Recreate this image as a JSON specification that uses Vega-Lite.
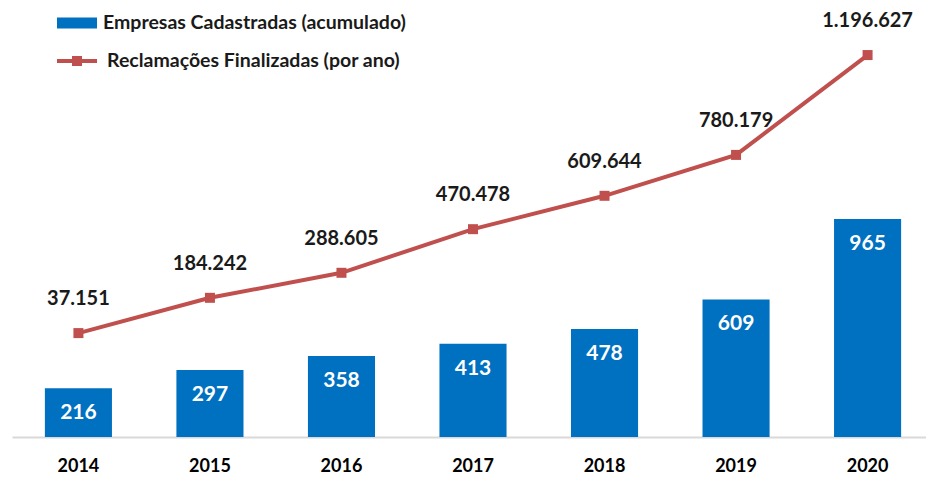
{
  "$schema": "https://vega.github.io/schema/vega-lite/v6.json",
  "autosize": "none",
  "width": 922,
  "height": 437,
  "padding": {"left": 12, "top": 0, "right": 0, "bottom": 40},
  "background": "white",
  "config": {
    "view": {"stroke": null},
    "font": "Lato",
    "locale": {"number": {"decimal": ",", "thousands": ".", "grouping": [3], "currency": ["R$", ""]}}
  },
  "data": {
    "values": [
      {"ano": "2014", "empresas": 216, "reclamacoes": 37151},
      {"ano": "2015", "empresas": 297, "reclamacoes": 184242},
      {"ano": "2016", "empresas": 358, "reclamacoes": 288605},
      {"ano": "2017", "empresas": 413, "reclamacoes": 470478},
      {"ano": "2018", "empresas": 478, "reclamacoes": 609644},
      {"ano": "2019", "empresas": 609, "reclamacoes": 780179},
      {"ano": "2020", "empresas": 965, "reclamacoes": 1196627}
    ]
  },
  "encoding": {
    "x": {
      "field": "ano", "type": "ordinal",
      "scale": {"paddingInner": 0.49, "paddingOuter": 0.25},
      "axis": {
        "title": null, "labelAngle": 0, "ticks": false,
        "domainColor": "#D9D9D9", "domainWidth": 2,
        "labelFont": "Lato", "labelFontSize": 18, "labelFontWeight": "bold",
        "labelColor": "#000000", "labelPadding": 20
      }
    }
  },
  "layer": [
    {
      "layer": [
        {
          "mark": {"type": "bar", "color": "#0070C0"},
          "encoding": {
            "y": {"field": "empresas", "type": "quantitative", "scale": {"domain": [0, 1934]}, "axis": null},
            "fill": {
              "datum": "Empresas Cadastradas (acumulado)",
              "scale": {"range": ["#0070C0"]},
              "legend": {
                "title": null, "orient": "none", "legendX": 45, "legendY": 3,
                "padding": 0,
                "symbolType": "M-1,-0.28H1V0.28H-1Z", "symbolSize": 1600,
                "symbolStrokeWidth": 0, "symbolOpacity": 1,
                "labelFont": "Lato", "labelFontSize": 19.5, "labelFontWeight": "bold",
                "labelColor": "#1a1a1a", "labelOffset": 6, "labelLimit": 500
              }
            }
          }
        },
        {
          "mark": {"type": "text", "color": "white", "fontSize": 21, "fontWeight": "bold", "baseline": "middle", "dy": 25},
          "encoding": {
            "y": {"field": "empresas", "type": "quantitative", "scale": {"domain": [0, 1934]}, "axis": null},
            "text": {"field": "empresas", "type": "quantitative", "format": "d"}
          }
        }
      ]
    },
    {
      "layer": [
        {
          "mark": {"type": "line", "strokeWidth": 4, "color": "#C0504D"},
          "encoding": {
            "y": {"field": "reclamacoes", "type": "quantitative", "scale": {"domain": [-396164, 1426186]}, "axis": null},
            "stroke": {
              "datum": "Reclamações Finalizadas (por ano)",
              "scale": {"range": ["#C0504D"]},
              "legend": {
                "title": null, "orient": "none", "legendX": 45, "legendY": 41,
                "padding": 0,
                "symbolType": "M-1,-0.1H1V0.1H-1Z M-0.25,-0.25H0.25V0.25H-0.25Z", "symbolSize": 1600,
                "symbolFillColor": "#C0504D", "symbolStrokeWidth": 0, "symbolOpacity": 1,
                "labelFont": "Lato", "labelFontSize": 19.5, "labelFontWeight": "bold",
                "labelColor": "#1a1a1a", "labelOffset": 10, "labelLimit": 500,
                "encode": {"symbols": {"update": {"fill": {"value": "#C0504D"}, "strokeWidth": {"value": 0}}}}
              }
            }
          }
        },
        {
          "mark": {"type": "point", "shape": "square", "filled": true, "size": 100, "color": "#C0504D", "opacity": 1},
          "encoding": {
            "y": {"field": "reclamacoes", "type": "quantitative", "scale": {"domain": [-396164, 1426186]}, "axis": null}
          }
        },
        {
          "mark": {"type": "text", "color": "#1a1a1a", "fontSize": 20, "fontWeight": "bold", "baseline": "middle", "dy": -34},
          "encoding": {
            "y": {"field": "reclamacoes", "type": "quantitative", "scale": {"domain": [-396164, 1426186]}, "axis": null},
            "text": {"field": "reclamacoes", "type": "quantitative", "format": ",d"}
          }
        }
      ]
    }
  ],
  "resolve": {"scale": {"y": "independent"}}
}
